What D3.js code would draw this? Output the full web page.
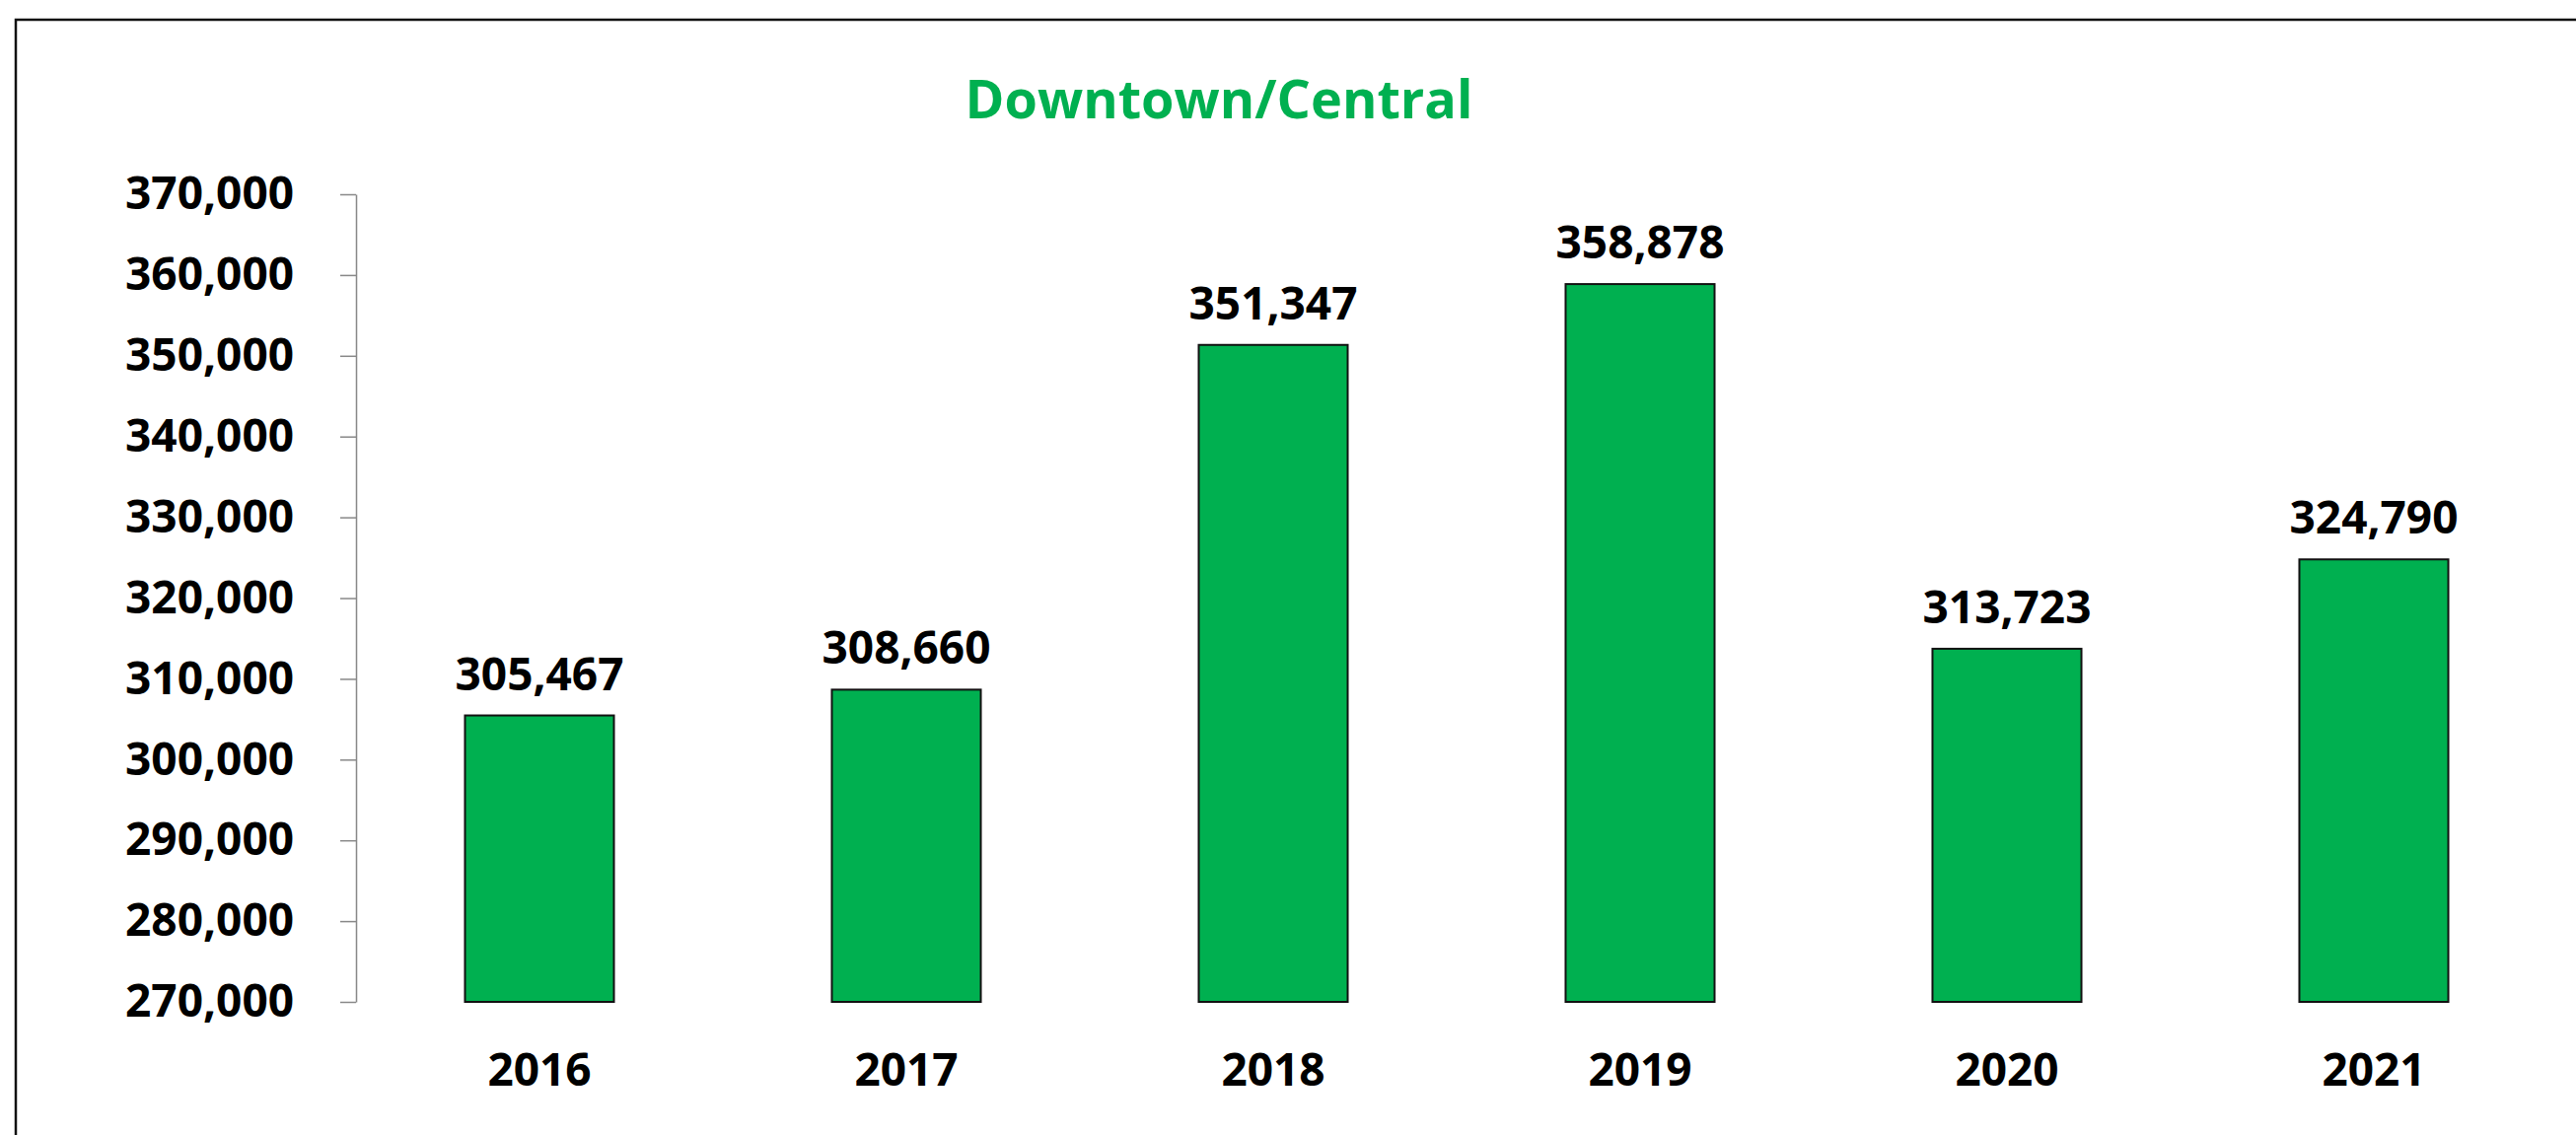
<!DOCTYPE html>
<html>
<head>
<meta charset="utf-8">
<script src="https://cdn.jsdelivr.net/npm/d3@7"></script>
<style>
  html, body { margin: 0; padding: 0; background: #fff; overflow: hidden; }
  text { font-family: "Open Sans", sans-serif; font-weight: bold; }
</style>
</head>
<body>
<div id="chart"></div>
<script>
// data
var years = ["2016", "2017", "2018", "2019", "2020", "2021"];
var riders = [305467, 308660, 351347, 358878, 313723, 324790];
var yTicks = [270000, 280000, 290000, 300000, 310000, 320000, 330000, 340000, 350000, 360000, 370000];
var chartTitle = "Downtown/Central";

function drawChart() {
    const width = 2612;
    const height = 1151;
    const green = "#00B050";

    const svg = d3.select("#chart")
        .append("svg")
        .attr("width", width)
        .attr("height", height);

    // outer frame (only top and left edges show in the picture)
    svg.append("rect")
        .attr("x", 16)
        .attr("y", 20)
        .attr("width", width + 50)
        .attr("height", height + 50)
        .attr("fill", "none")
        .attr("stroke", "#111")
        .attr("stroke-width", 2.5);

    const xScale = d3.scaleBand()
        .domain(years)
        .range([361, 2593])
        .paddingInner(0.594)
        .paddingOuter(0.297);

    const yScale = d3.scaleLinear()
        .domain([270000, 370000])
        .range([1016, 197]);

    // y axis
    const yAxis = svg.append("g")
        .attr("transform", "translate(361,0)")
        .call(d3.axisLeft(yScale)
            .tickValues(yTicks)
            .tickFormat(d3.format(","))
            .tickSize(16)
            .tickSizeOuter(0)
            .tickPadding(47));
    yAxis.select(".domain").attr("stroke", "#888").attr("stroke-width", 1.5);
    yAxis.selectAll(".tick line").attr("stroke", "#888").attr("stroke-width", 1.5);
    yAxis.selectAll(".tick text")
        .attr("fill", "#000")
        .style("font-size", "46px")
        .style("font-family", "'Open Sans', sans-serif")
        .style("font-weight", "bold");

    // x axis labels only (no axis line)
    const xAxis = svg.append("g")
        .attr("transform", "translate(0,1016)")
        .call(d3.axisBottom(xScale).tickSize(0).tickPadding(52));
    xAxis.select(".domain").remove();
    xAxis.selectAll(".tick text")
        .attr("fill", "#000")
        .style("font-size", "46px")
        .style("font-family", "'Open Sans', sans-serif")
        .style("font-weight", "bold");

    // bars
    svg.selectAll(".bar")
        .data(riders)
        .enter()
        .append("rect")
        .attr("class", "bar")
        .attr("x", (d, i) => xScale(years[i]))
        .attr("y", (d) => yScale(d))
        .attr("width", xScale.bandwidth())
        .attr("height", (d) => yScale(270000) - yScale(d))
        .attr("fill", green)
        .attr("stroke", "#111")
        .attr("stroke-width", 2);

    // value labels
    svg.selectAll(".value")
        .data(riders)
        .enter()
        .append("text")
        .attr("class", "value")
        .attr("x", (d, i) => xScale(years[i]) + xScale.bandwidth() / 2)
        .attr("y", (d) => yScale(d) - 26)
        .attr("text-anchor", "middle")
        .style("font-size", "46px")
        .attr("fill", "#000")
        .text((d) => d3.format(",")(d));

    // title
    svg.append("text")
        .attr("x", 1236)
        .attr("y", 120)
        .attr("text-anchor", "middle")
        .style("font-size", "54px")
        .attr("fill", green)
        .text(chartTitle);
}

drawChart();
</script>
</body>
</html>
